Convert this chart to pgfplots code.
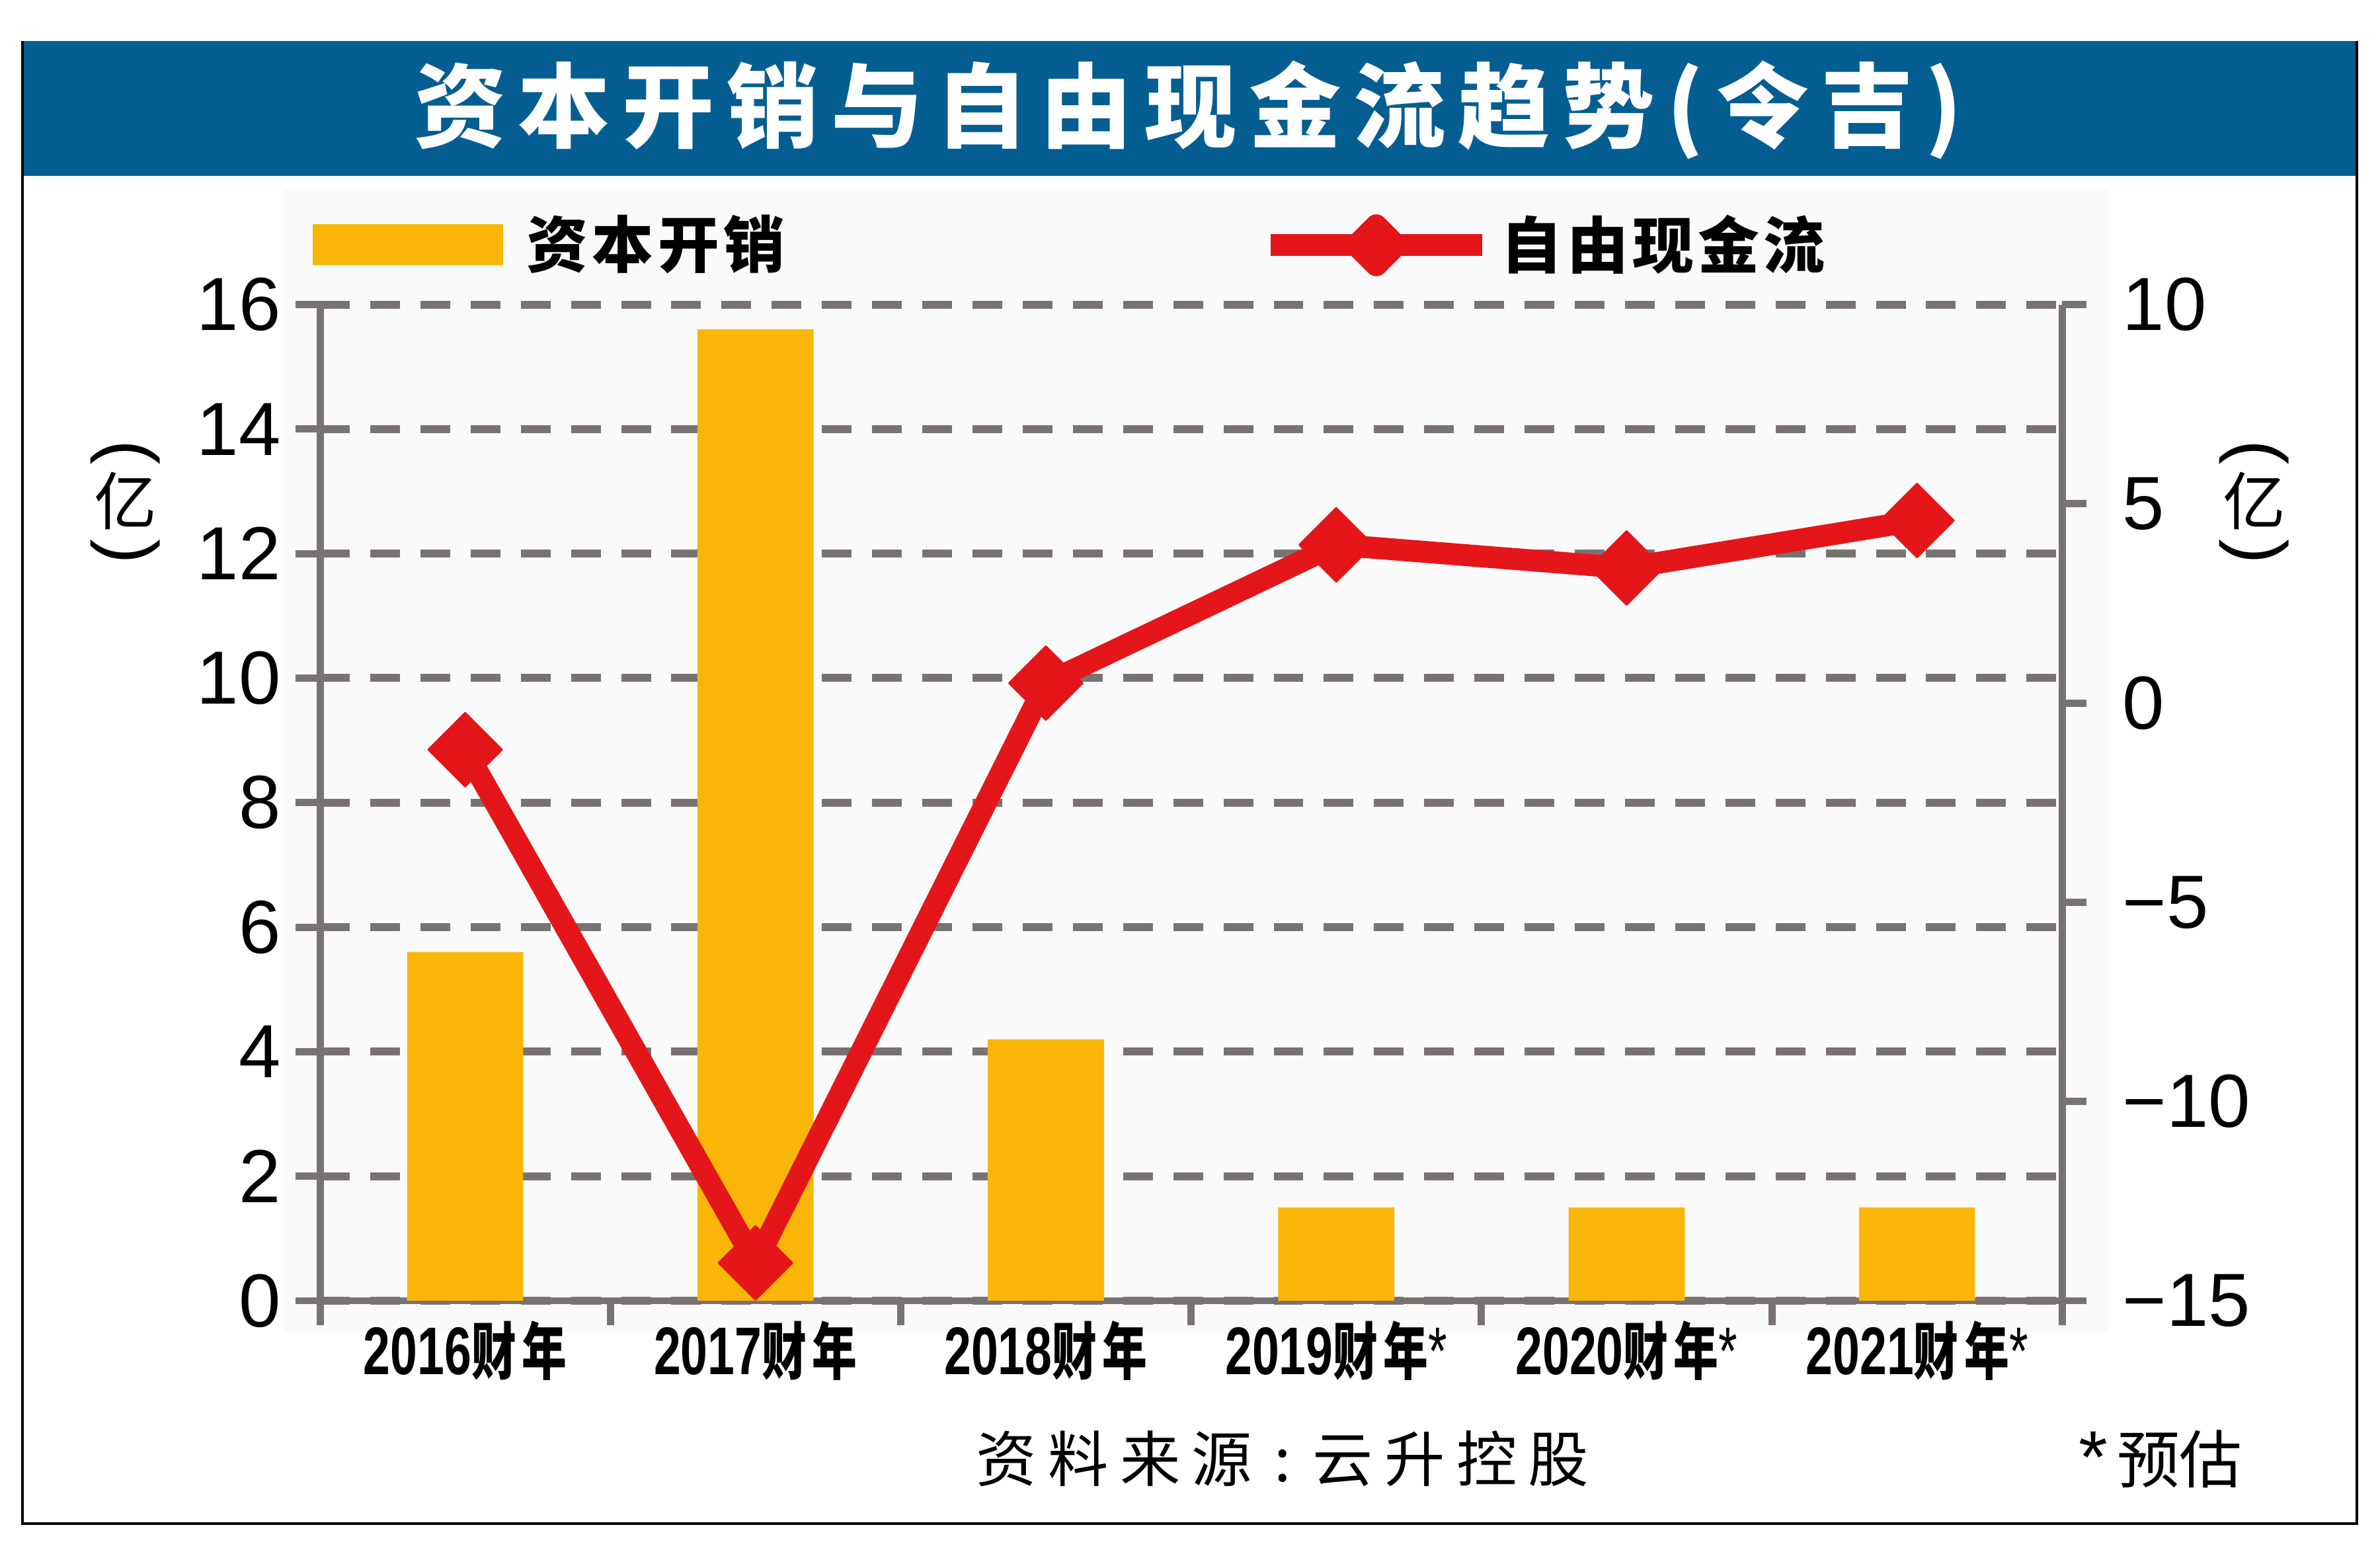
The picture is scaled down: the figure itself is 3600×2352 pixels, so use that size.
\documentclass[border=0pt]{standalone}
\usepackage{fontspec}
\usepackage{pgfplots}
\pgfplotsset{compat=1.18}
\setmainfont{Liberation Sans}
\newfontfamily\cjk{Noto Sans CJK SC}
\newfontfamily\cjkt[LetterSpace=13.5]{Noto Sans CJK SC}
\newfontfamily\cjkl[LetterSpace=7]{Noto Sans CJK SC}
\newfontfamily\cjks[LetterSpace=19]{Noto Sans CJK SC}
\newfontfamily\cjkc[FakeStretch=0.72]{Noto Sans CJK SC}
\newfontfamily\latc[FakeStretch=0.72]{Liberation Sans}

\definecolor{titleblue}{RGB}{4,94,146}
\definecolor{baryellow}{RGB}{250,182,8}
\definecolor{linered}{RGB}{228,22,26}
\definecolor{axgray}{RGB}{120,115,114}

% x tick label: condensed year + 财年 + optional star
\newcommand{\fy}[2]{{\latc\bfseries #1}{\cjkc\bfseries\fontsize{13.4pt}{15pt}\selectfont 财\hspace{1.2pt}年}{\latc #2}}

\pgfplotsset{
  chartbase/.style={
    scale only axis, width=374.88pt, height=214.30pt,
    at={(24.2mm,19.25mm)}, anchor=south west,
    xmin=-0.5, xmax=5.5,
    axis line style={-, draw=axgray, line width=1.56pt},
    tick style={draw=axgray, line width=1.56pt},
    tick align=outside, major tick length=5.25pt,
    /pgf/number format/assume math mode=true,
    clip=false,
  },
}

\begin{document}
\begin{tikzpicture}[x=0.05mm, y=0.05mm]
\path[use as bounding box] (0,0) rectangle (3600,2352);
\fill[black!2] (430,2065) rectangle (3189,337);
\fill[titleblue] (34,2290) rectangle (3565,2086);
\draw[black, line width=0.57pt] (34,2290) -- (34,48) -- (3565,48) -- (3565,2290);
\node[text=white, font=\cjkt\bfseries\fontsize{19.8pt}{22pt}\selectfont] at (1797,2186) {资本开销与自由现金流趋势(令吉)};

% bars, left axis
\begin{axis}[chartbase,
  ymin=0, ymax=16,
  axis x line*=bottom, axis y line*=left,
  xtick={-0.5,0.5,...,5.5}, x tick label as interval,
  xticklabels={\fy{2016}{},\fy{2017}{},\fy{2018}{},\fy{2019}{*},\fy{2020}{*},\fy{2021}{*}},
  xticklabel style={font=\fontsize{14.5pt}{16pt}\selectfont, inner sep=0pt, anchor=base, yshift=-10.6pt},
  ytick={0,2,...,16},
  yticklabel style={font=\fontsize{16.2pt}{17pt}\selectfont, inner sep=0pt, anchor=east, xshift=-3pt},
  ymajorgrids,
  grid style={draw=axgray, line width=1.7pt, dash pattern=on 6.4pt off 4.4pt},
  legend style={draw=none, fill=none, inner sep=0pt, column sep=5pt,
    at={(-0.0049,1.0602)}, anchor=west,
    font=\cjkl\bfseries\fontsize{13.2pt}{15pt}\selectfont, nodes={inner sep=0pt}},
  legend image code/.code={\fill[baryellow] (0pt,-4.46pt) rectangle (41.1pt,4.46pt);},
]
\addplot[ybar, bar width=0.4, fill=baryellow, draw=none] coordinates {
  (0,5.6) (1,15.6) (2,4.2) (3,1.5) (4,1.5) (5,1.5)
};
\addlegendentry{资本开销}
\end{axis}

% free cash flow, right axis
\begin{axis}[chartbase,
  ymin=-15, ymax=10,
  axis x line=none, axis y line*=right,
  ytick={-15,-10,...,10},
  yticklabels={−15,−10,−5,0,5,10},
  yticklabel style={font=\fontsize{16.2pt}{17pt}\selectfont, inner sep=0pt, anchor=west, xshift=7.6pt},
  legend style={draw=none, fill=none, inner sep=0pt, column sep=1.8pt,
    at={(0.5388,1.0595)}, anchor=west,
    font=\cjkl\bfseries\fontsize{13.2pt}{15pt}\selectfont, nodes={inner sep=0pt}},
  legend image code/.code={
    \draw[linered, line width=4.7pt] (0pt,0pt) -- (45.5pt,0pt);
    \fill[linered] (22.75pt,4.3pt) -- (27.05pt,0pt) -- (22.75pt,-4.3pt) -- (18.45pt,0pt) -- cycle;},
]
\addplot[linered, line width=4.7pt, line join=round, mark=square*, mark size=5.6pt,
  mark options={rotate=45, line width=0.4pt, fill=linered, draw=linered}] coordinates {
  (0,-1.17) (1,-14.05) (2,0.5) (3,3.97) (4,3.39) (5,4.58)
};
\addlegendentry{自由现金流}
\end{axis}

% unit labels (亿)
\node[rotate=-90, font=\fontsize{16pt}{17pt}\selectfont] at (190,1668) {(};
\node[font=\cjk\fontsize{13.5pt}{15pt}\selectfont] at (190,1595) {亿};
\node[rotate=-90, font=\fontsize{16pt}{17pt}\selectfont] at (190,1518) {)};
\node[rotate=-90, font=\fontsize{16pt}{17pt}\selectfont] at (3410,1668) {(};
\node[font=\cjk\fontsize{13.5pt}{15pt}\selectfont] at (3410,1595) {亿};
\node[rotate=-90, font=\fontsize{16pt}{17pt}\selectfont] at (3410,1518) {)};

% source and note
\node[font=\cjks\fontsize{13pt}{15pt}\selectfont] at (1940,146) {资料来源\makebox[1em][c]{:}云升控股};
\node[font=\cjk\fontsize{13.5pt}{15pt}\selectfont] at (3268,146) {{\rmfamily\fontsize{16pt}{15pt}\selectfont *}\hspace{2pt}预估};
\end{tikzpicture}
\end{document}
